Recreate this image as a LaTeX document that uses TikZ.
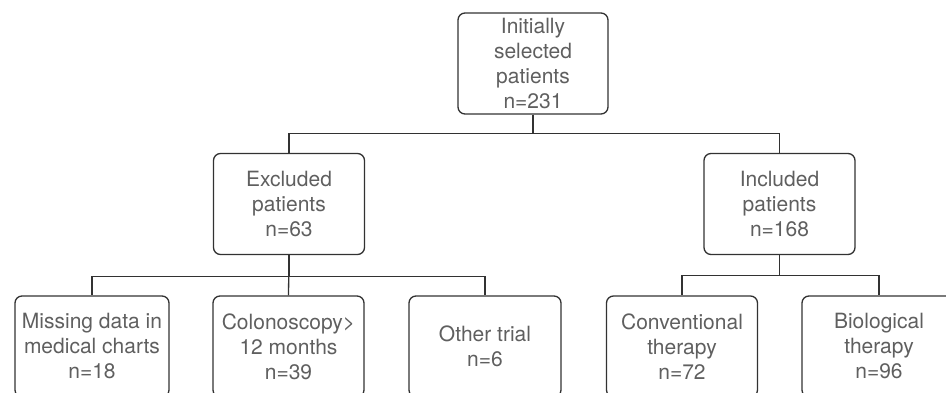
\documentclass[tikz,border=0pt]{standalone}
\usepackage{fontspec}
\setmainfont{TeX Gyre Heros}
\definecolor{txtgray}{RGB}{95,95,95}
\definecolor{linegray}{RGB}{50,50,50}
\begin{document}
\begin{tikzpicture}[x=1pt,y=-1pt,
  box/.style={draw=linegray, line width=1.3pt, rounded corners=7pt, minimum height=101pt, inner sep=0pt, align=center, text=txtgray, font=\fontsize{21}{25}\selectfont},
  conn/.style={draw=linegray, line width=1.3pt}]
\useasboundingbox (0,0) rectangle (946,393);
\clip (0,0) rectangle (946,393);
\node[box, minimum width=150pt] (top) at (533,63.5) {Initially\\selected\\patients\\n=231};
\node[box, minimum width=151pt] (excl) at (289,204) {Excluded\\patients\\n=63};
\node[box, minimum width=151pt] (incl) at (779.5,204) {Included\\patients\\n=168};
\node[box, minimum width=154pt] (miss) at (92,346.5) {Missing data in\\medical charts\\n=18};
\node[box, minimum width=151pt] (colon) at (288.5,346.5) {Colonoscopy>\\12 months\\n=39};
\node[box, minimum width=152pt] (other) at (485,346.5) {Other trial\\n=6};
\node[box, minimum width=151pt] (conv) at (682,346.5) {Conventional\\therapy\\n=72};
\node[box, minimum width=154pt] (bio) at (879,346.5) {Biological\\therapy\\n=96};
\draw[conn] (top.south) -- ++(0,19) -| (excl.north);
\draw[conn] (top.south) -- ++(0,19) -| (incl.north);
\draw[conn] (excl.south) -- ++(0,21) -| (miss.north);
\draw[conn] (excl.south) -- (colon.north);
\draw[conn] (excl.south) -- ++(0,21) -| (other.north);
\draw[conn] (incl.south) -- ++(0,20) -| (conv.north);
\draw[conn] (incl.south) -- ++(0,20) -| (bio.north);
\end{tikzpicture}
\end{document}
